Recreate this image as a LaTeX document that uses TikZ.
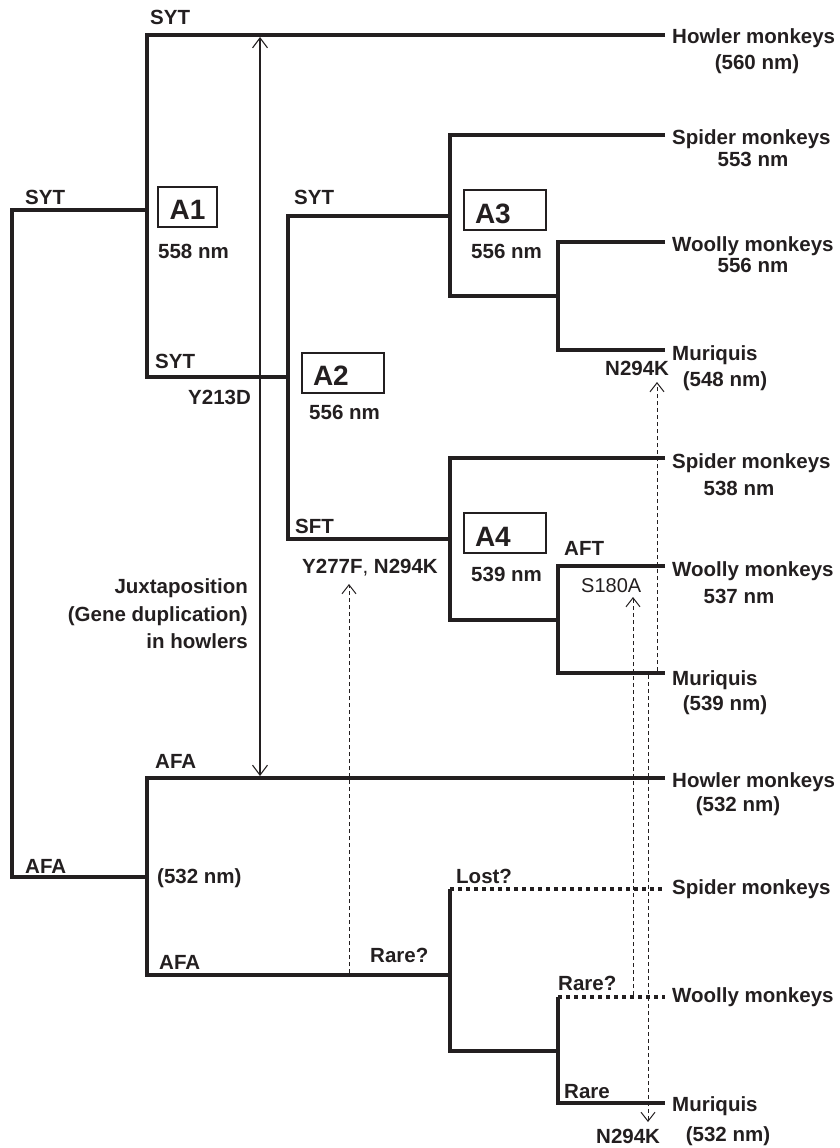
\documentclass[tikz,border=0pt]{standalone}
\usepackage{fontspec}
\setmainfont{Liberation Sans}
\usetikzlibrary{arrows.meta}
\definecolor{ink}{RGB}{35,31,32}
\begin{document}
\begin{tikzpicture}[x=1pt,y=-1pt,
  lbl/.style={font=\fontsize{20.5}{24}\selectfont\bfseries, text=ink, inner sep=0pt},
  lblr/.style={font=\fontsize{20}{24}\selectfont, text=ink, inner sep=0pt},
  boxA/.style={draw=ink, line width=2pt, text=ink, font=\fontsize{28}{30}\selectfont\bfseries,
    minimum height=40pt, inner ysep=0pt, text height=26pt, text depth=0pt},
  branch/.style={draw=ink, line width=4.5pt, line join=miter},
  lost/.style={draw=ink, line width=4.5pt, dash pattern=on 4pt off 4pt},
  dup/.style={draw=ink, line width=1.1pt, {Straight Barb[length=10pt,width=15pt]}-{Straight Barb[length=10pt,width=15pt]}},
  mut/.style={draw=ink, line width=1pt, dash pattern=on 4pt off 3pt, -{Straight Barb[length=9pt,width=14pt]}}]
\useasboundingbox (0,0) rectangle (840,1148);

% ---- junction coordinates ----
\coordinate (root) at (12,210);
\coordinate (rootB) at (12,877);
\coordinate (a1m) at (147,210);
\coordinate (a1t) at (147,35);
\coordinate (a1b) at (147,377);
\coordinate (a2t) at (288,216);
\coordinate (a2b) at (288,539);
\coordinate (a2j) at (288,377);
\coordinate (a3m) at (450,216);
\coordinate (a3t) at (450,135);
\coordinate (a3b) at (450,296);
\coordinate (a3it) at (558,242);
\coordinate (a3ib) at (558,350);
\coordinate (a3ij) at (558,296);
\coordinate (a4m) at (450,539);
\coordinate (a4t) at (450,458);
\coordinate (a4b) at (450,620);
\coordinate (a4it) at (558,566);
\coordinate (a4ib) at (558,673);
\coordinate (a4ij) at (558,620);
\coordinate (afm) at (147,877);
\coordinate (aft) at (147,778);
\coordinate (afb) at (147,975);
\coordinate (lm) at (450,975);
\coordinate (lt) at (450,889);
\coordinate (lb) at (450,1051);
\coordinate (lij) at (558,1051);
\coordinate (lit) at (558,997);
\coordinate (lib) at (558,1103);
% tips
\coordinate (tHow1) at (665,35);
\coordinate (tSpi1) at (665,135);
\coordinate (tWoo1) at (665,242);
\coordinate (tMur1) at (665,350);
\coordinate (tSpi2) at (665,458);
\coordinate (tWoo2) at (665,566);
\coordinate (tMur2) at (665,673);
\coordinate (tHow2) at (665,778);
\coordinate (tSpi3) at (665,889);
\coordinate (tWoo3) at (665,997);
\coordinate (tMur3) at (665,1103);

% ---- branches ----
\draw[branch] (a1m) -- (root) -- (rootB) -- (afm);
\draw[branch] (tHow1) -- (a1t) -- (a1b) -- (a2j);
\draw[branch] (a3m) -- (a2t) -- (a2b) -- (a4m);
\draw[branch] (tSpi1) -- (a3t) -- (a3b) -- (a3ij);
\draw[branch] (tWoo1) -- (a3it) -- (a3ib) -- (tMur1);
\draw[branch] (tSpi2) -- (a4t) -- (a4b) -- (a4ij);
\draw[branch] (tWoo2) -- (a4it) -- (a4ib) -- (tMur2);
\draw[branch] (tHow2) -- (aft) -- (afb) -- (lm);
\draw[branch] (lt) -- (lb) -- (lij);
\draw[branch] (lit) -- (lib) -- (tMur3);
\draw[lost] (lt) -- (tSpi3);
\draw[lost] (lit) -- (tWoo3);

% ---- duplication arrow ----
\coordinate (dupTop) at (260,37);
\coordinate (dupBot) at (260,776);
\draw[dup] (dupTop) -- (dupBot);

% ---- mutation arrows ----
\coordinate (m1s) at (349,973);
\coordinate (m1e) at (349,584);
\coordinate (m2s) at (657,671);
\coordinate (m2e) at (657,382);
\coordinate (m3s) at (633,995);
\coordinate (m3e) at (633,597);
\coordinate (m4s) at (648,675);
\coordinate (m4e) at (648,1122);
\draw[mut] (m1s) -- (m1e);
\draw[mut] (m2s) -- (m2e);
\draw[mut] (m3s) -- (m3e);
\draw[mut] (m4s) -- (m4e);

% ---- ancestral boxes ----
\node[boxA, minimum width=59pt, inner xsep=0pt] (A1) at (187.5,206.5) {A1};
\node[boxA, text width=60pt, align=left, inner xsep=11pt] (A2) at (343,372.5) {A2};
\node[boxA, text width=60pt, align=left, inner xsep=11pt] (A3) at (505,210) {A3};
\node[boxA, text width=60pt, align=left, inner xsep=11pt] (A4) at (505,533) {A4};

% ---- internal labels ----
\node[lbl, anchor=base west] (sytTop) at (150,25) {SYT};
\node[lbl, anchor=base west] (sytRoot) at (25,204) {SYT};
\node[lbl, anchor=base west] (nmA1) at (158,258) {558 nm};
\node[lbl, anchor=base west] (sytA1b) at (155,368) {SYT};
\node[lbl, anchor=base west] (sytA2) at (294,204) {SYT};
\node[lbl, anchor=base west] (y213) at (188,404) {Y213D};
\node[lbl, anchor=base west] (nmA2) at (309,419) {556 nm};
\node[lbl, anchor=base west] (sft) at (295,533) {SFT};
\node[lbl, anchor=base west] (y277) at (302,573) {Y277F{\mdseries ,} N294K};
\node[lbl, anchor=base east] (jux1) at (248,593) {Juxtaposition};
\node[lbl, anchor=base east] (jux2) at (248,621) {(Gene duplication)};
\node[lbl, anchor=base east] (jux3) at (248,648) {in howlers};
\node[lbl, anchor=base west] (afaTop) at (155,768) {AFA};
\node[lbl, anchor=base west] (afaRoot) at (25,873) {AFA};
\node[lbl, anchor=base west] (nmAFA) at (157,883) {(532 nm)};
\node[lbl, anchor=base west] (afaBot) at (159,969) {AFA};
\node[lbl, anchor=base west] (rare1) at (370,962) {Rare?};
\node[lbl, anchor=base west] (nmA3) at (471,258) {556 nm};
\node[lbl, anchor=base west] (nmA4) at (471,581) {539 nm};
\node[lbl, anchor=base west] (n294a) at (605,375) {N294K};
\node[lbl, anchor=base west] (aftl) at (564,555) {AFT};
\node[lblr, anchor=base west] (s180) at (581,592) {S180A};
\node[lbl, anchor=base west] (lostl) at (456,883) {Lost?};
\node[lbl, anchor=base west] (rare2) at (558,990) {Rare?};
\node[lbl, anchor=base west] (rare3) at (564,1098) {Rare};
\node[lbl, anchor=base west] (n294b) at (596,1143) {N294K};

% ---- species labels ----
\node[lbl, anchor=base west] (how1) at (672,44) {Howler monkeys};
\node[lbl, anchor=base] (how1nm) at (757,70) {(560 nm)};
\node[lbl, anchor=base west] (spi1) at (672,144) {Spider monkeys};
\node[lbl, anchor=base] (spi1nm) at (753,166) {553 nm};
\node[lbl, anchor=base west] (woo1) at (672,251) {Woolly monkeys};
\node[lbl, anchor=base] (woo1nm) at (753,272) {556 nm};
\node[lbl, anchor=base west] (mur1) at (672,360) {Muriquis};
\node[lbl, anchor=base] (mur1nm) at (725,386) {(548 nm)};
\node[lbl, anchor=base west] (spi2) at (672,468) {Spider monkeys};
\node[lbl, anchor=base] (spi2nm) at (739,495) {538 nm};
\node[lbl, anchor=base west] (woo2) at (672,576) {Woolly monkeys};
\node[lbl, anchor=base] (woo2nm) at (739,603) {537 nm};
\node[lbl, anchor=base west] (mur2) at (672,685) {Muriquis};
\node[lbl, anchor=base] (mur2nm) at (725,710) {(539 nm)};
\node[lbl, anchor=base west] (how2) at (672,787) {Howler monkeys};
\node[lbl, anchor=base] (how2nm) at (738,811) {(532 nm)};
\node[lbl, anchor=base west] (spi3) at (672,894) {Spider monkeys};
\node[lbl, anchor=base west] (woo3) at (672,1002) {Woolly monkeys};
\node[lbl, anchor=base west] (mur3) at (672,1111) {Muriquis};
\node[lbl, anchor=base] (mur3nm) at (728,1141) {(532 nm)};
\end{tikzpicture}
\end{document}
